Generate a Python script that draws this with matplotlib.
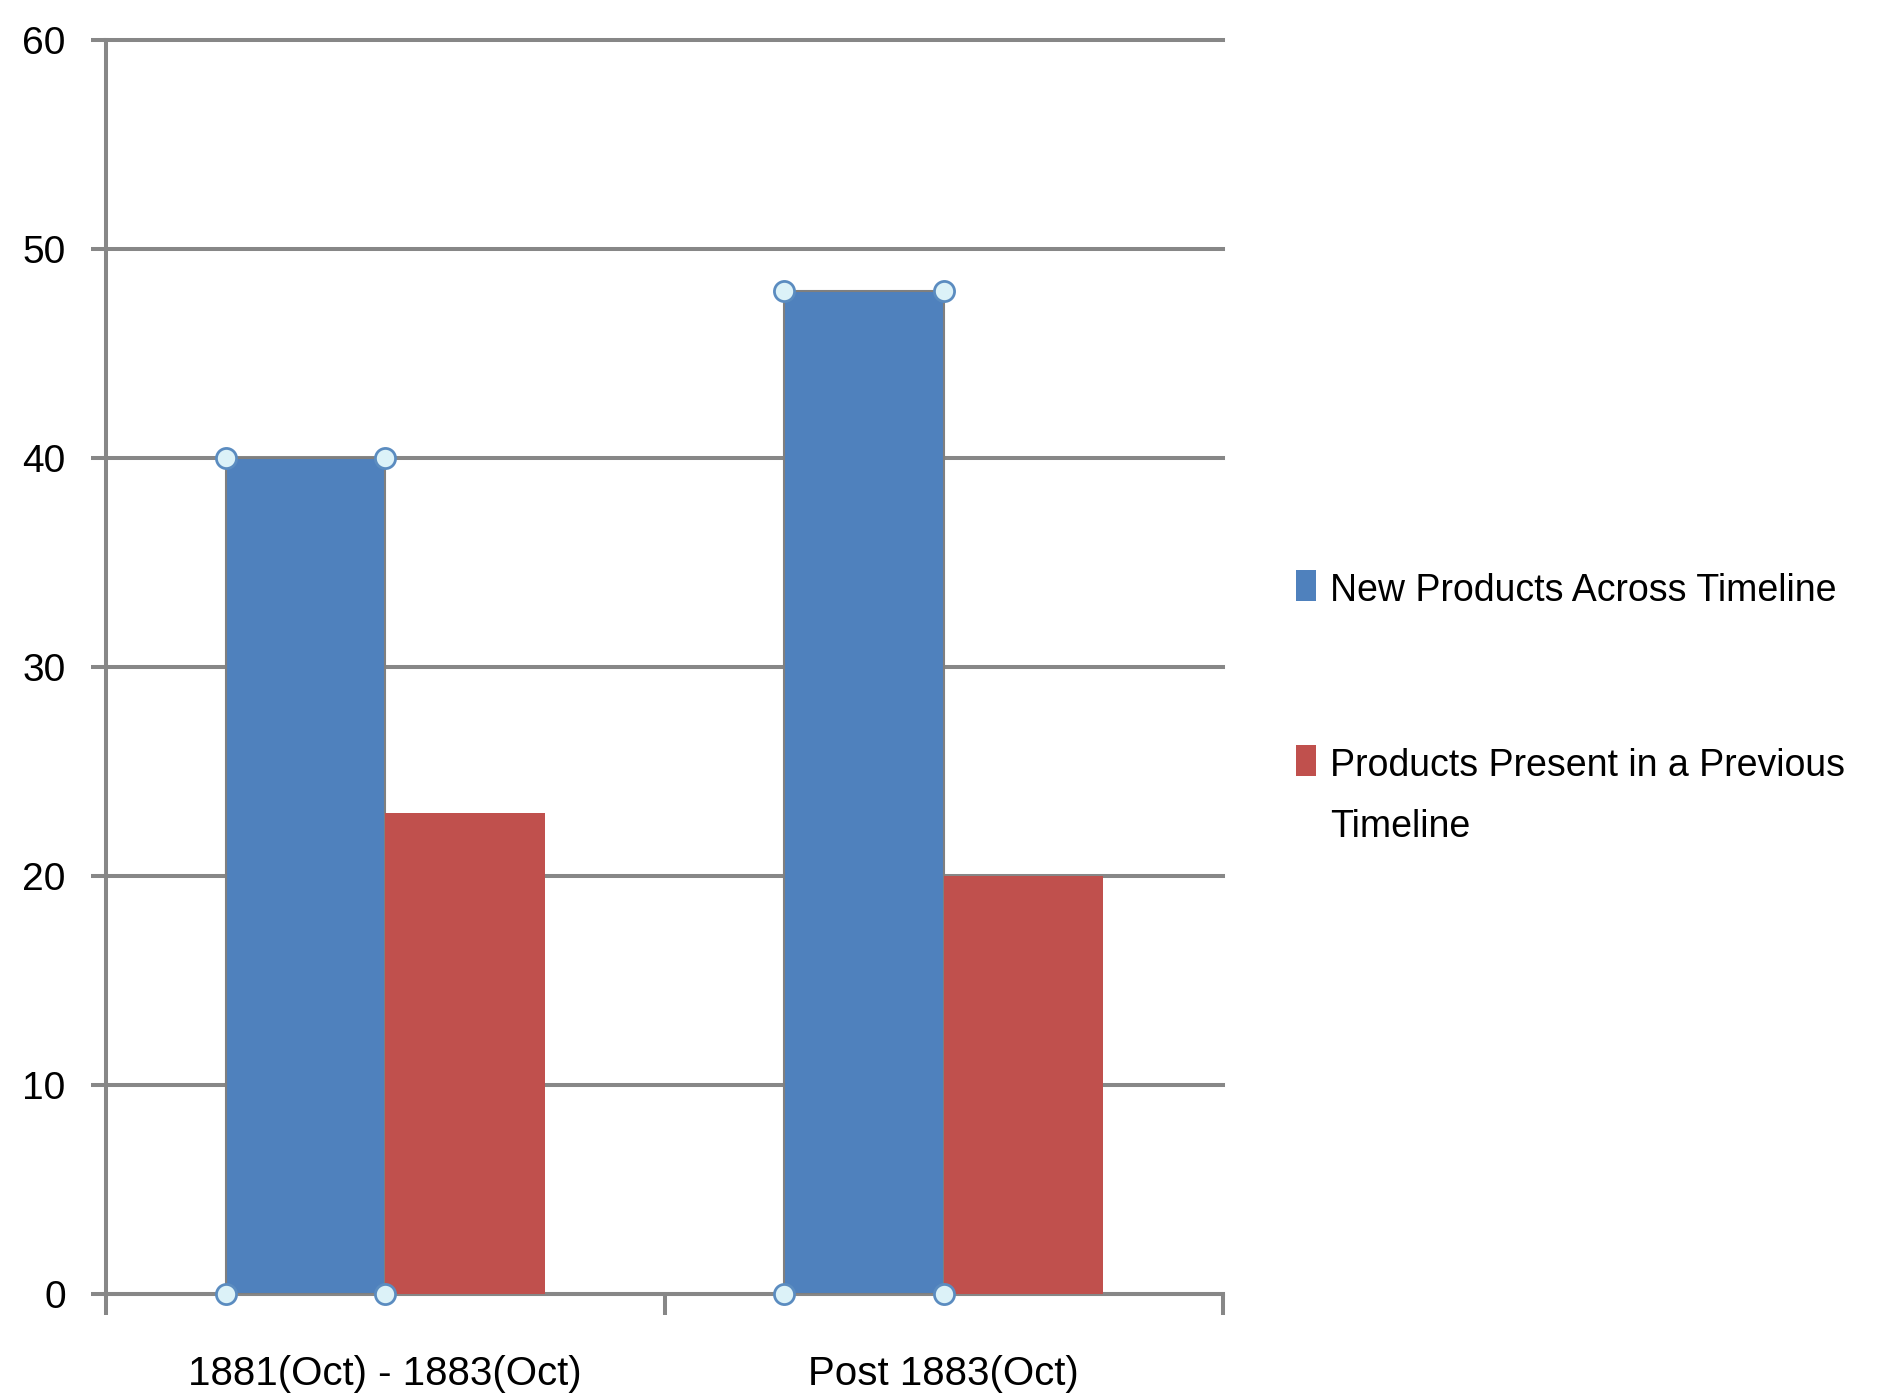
import matplotlib
matplotlib.use('Agg')
import matplotlib.pyplot as plt
from matplotlib.patches import Rectangle
import numpy as np

plt.rcParams['font.family'] = ['Liberation Sans', 'DejaVu Sans']

# data
categories = ['1881(Oct) - 1883(Oct)', 'Post 1883(Oct)']
new_products = [40, 48]
previous_products = [23, 20]
series_names = ['New Products Across Timeline',
                'Products Present in a Previous\nTimeline']

blue = '#4F81BD'
red = '#C0504D'
grey = '#878787'

W, H = 1903, 1398
fig = plt.figure(figsize=(W / 100, H / 100), dpi=100)
ax = fig.add_axes([106 / W, 1 - 1294 / H, 1117 / W, 1254 / H])

x = np.arange(len(categories))
w = 1 / 3.5  # excel gap width 150%

b1 = ax.bar(x - w / 2, new_products, w, color=blue, edgecolor='#7f7f7f',
            linewidth=1.5, zorder=3)
b2 = ax.bar(x + w / 2, previous_products, w, color=red, linewidth=0,
            zorder=3)

# selection handles on the corners of the blue bars
hx, hy = [], []
for r in b1:
    for cx in (r.get_x(), r.get_x() + r.get_width()):
        for cy in (0, r.get_height()):
            hx.append(cx)
            hy.append(cy)
ax.scatter(hx, hy, s=210, facecolor='#dcf2f8', edgecolor='#5b8cc0',
           linewidth=2, zorder=5, clip_on=False)

ax.set_xlim(-0.5, len(categories) - 0.5)
ax.set_ylim(0, 60)
ax.set_yticks(np.arange(0, 61, 10))
ax.yaxis.grid(True, color=grey, linewidth=2.9, zorder=0)
ax.set_axisbelow(True)
for gl in ax.get_ygridlines():
    gl.set_clip_on(False)

ax.set_xticks(np.arange(-0.5, len(categories), 1.0))
ax.set_xticklabels([])
ax.set_xticks(x, minor=True)
ax.set_xticklabels(categories, minor=True)
ax.tick_params(axis='x', which='major', length=15, width=2.9, color=grey)
ax.tick_params(axis='x', which='minor', length=0, pad=44, labelsize=29)
ax.tick_params(axis='y', length=11, width=2.9, color=grey, pad=18,
               labelsize=28)

for s in ('top', 'right'):
    ax.spines[s].set_visible(False)
for s in ('left', 'bottom'):
    ax.spines[s].set_color(grey)
    ax.spines[s].set_linewidth(2.9)

# legend on the right, drawn by hand so the swatch sits on the first line
legend_rows = [(blue, 585), (red, 760)]
for (col, yc), name in zip(legend_rows, series_names):
    fig.patches.append(Rectangle((1296 / W, 1 - (yc + 16) / H), 20 / W,
                                 31 / H, transform=fig.transFigure,
                                 facecolor=col, edgecolor='none'))
    fig.text(1330 / W, 1 - (yc - 12) / H, name, fontsize=27,
             va='top', ha='left', linespacing=1.9)

fig.savefig('out.png', dpi=100)
